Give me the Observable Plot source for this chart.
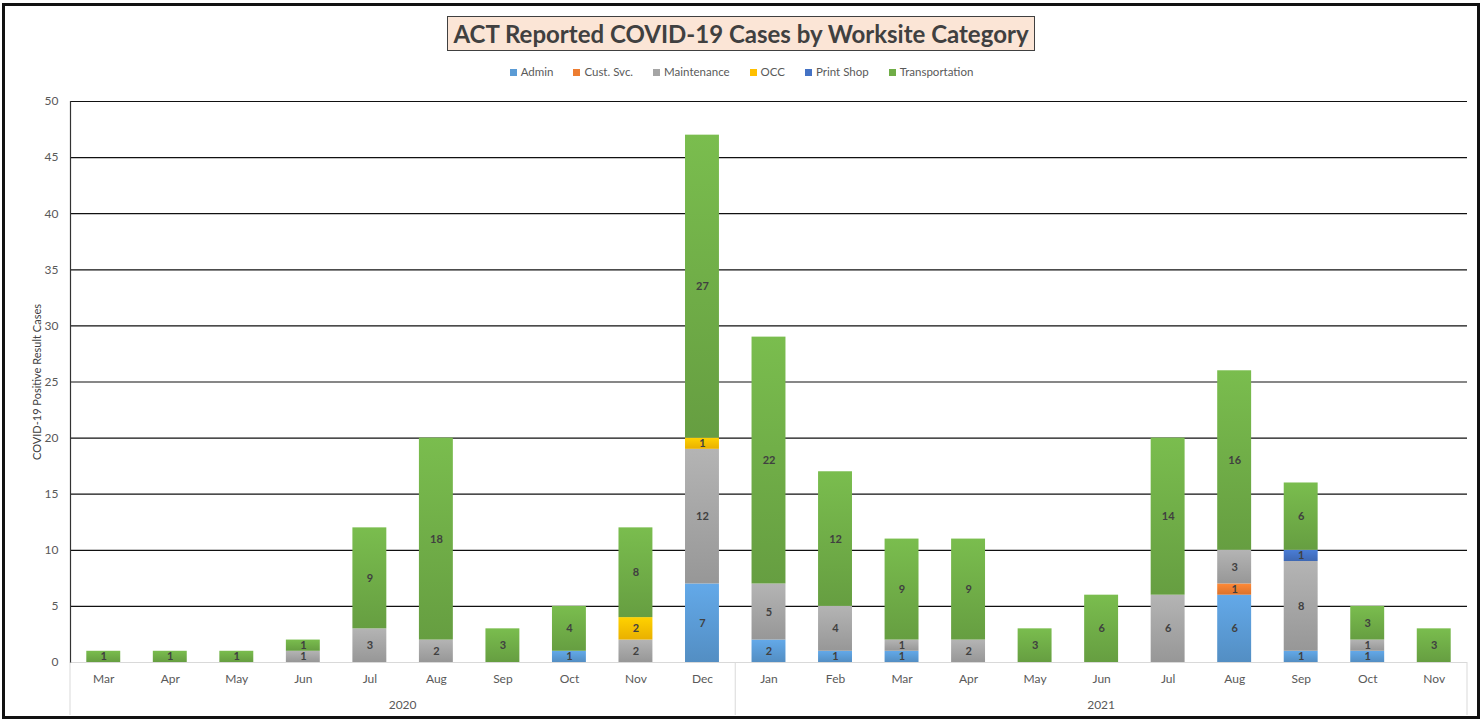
<!DOCTYPE html>
<html>
<head>
<meta charset="utf-8">
<script src="https://cdn.jsdelivr.net/npm/d3@7"></script>
<script src="https://cdn.jsdelivr.net/npm/@observablehq/plot@0.6"></script>
<style>
  html, body { margin: 0; padding: 0; background: #fff; }
  body { width: 1483px; height: 721px; position: relative; overflow: hidden; font-family: Lato, "Open Sans", sans-serif; }
  #border { position: absolute; left: 2px; top: 3px; width: 1472px; height: 710px; border: 3px solid #111; }
  #title { position: absolute; left: 447px; top: 16px; width: 586px; height: 33px; background: #fbe5d6; border: 1.5px solid #404040;
           font-weight: 700; font-size: 24px; color: #404040; text-align: center; line-height: 33px; white-space: nowrap; }
  #legend { position: absolute; left: 0; top: 65px; width: 1483px; text-align: center; font-size: 11.5px; color: #595959; }
  #legend span.item { margin: 0 10px; white-space: nowrap; }
  #legend span.sw { display: inline-block; width: 7px; height: 7px; margin-right: 4px; vertical-align: 0px; }
  #chart { position: absolute; left: 0; top: 90px; }
</style>
</head>
<body>
<div id="border"></div>
<div id="title">ACT Reported COVID-19 Cases by Worksite Category</div>
<div id="legend"></div>
<div id="chart"></div>
<script>
const months2020 = ["Mar","Apr","May","Jun","Jul","Aug","Sep","Oct","Nov","Dec"];
const months2021 = ["Jan","Feb","Mar","Apr","May","Jun","Jul","Aug","Sep","Oct","Nov"];
const years = ["2020", "2021"];
const categories = ["Admin","Cust. Svc.","Maintenance","OCC","Print Shop","Transportation"];
const colors = ["#5b9bd5","#ed7d31","#a5a5a5","#ffc000","#4472c4","#70ad47"];
const yTicks = [0,5,10,15,20,25,30,35,40,45,50];
//                   2020: Mar Apr May Jun Jul Aug Sep Oct Nov Dec | 2021: Jan Feb Mar Apr May Jun Jul Aug Sep Oct Nov
const admin          = [0,  0,  0,  0,  0,  0,  0,  1,  0,  7,   2,  1,  1,  0,  0,  0,  0,  6,  1,  1,  0];
const custSvc        = [0,  0,  0,  0,  0,  0,  0,  0,  0,  0,   0,  0,  0,  0,  0,  0,  0,  1,  0,  0,  0];
const maintenance    = [0,  0,  0,  1,  3,  2,  0,  0,  2, 12,   5,  4,  1,  2,  0,  0,  6,  3,  8,  1,  0];
const occ            = [0,  0,  0,  0,  0,  0,  0,  0,  2,  1,   0,  0,  0,  0,  0,  0,  0,  0,  0,  0,  0];
const printShop      = [0,  0,  0,  0,  0,  0,  0,  0,  0,  0,   0,  0,  0,  0,  0,  0,  0,  0,  1,  0,  0];
const transportation = [1,  1,  1,  1,  9, 18,  3,  4,  8, 27,  22, 12,  9,  9,  3,  6, 14, 16,  6,  3,  3];

const series = [admin, custSvc, maintenance, occ, printShop, transportation];
const keys = months2020.map(m => "2020 " + m).concat(months2021.map(m => "2021 " + m));
const data = [];
categories.forEach((c, ci) => keys.forEach((k, i) => data.push({key: k, cat: c, ci, value: series[ci][i]})));
const labelData = data.filter(d => d.value > 0);

// legend
const legend = document.getElementById("legend");
categories.forEach((c, i) => {
  const s = document.createElement("span");
  s.className = "item";
  s.innerHTML = `<span class="sw" style="background:${colors[i]}"></span>${c}`;
  legend.appendChild(s);
});

const W = 1483, H = 631, mL = 70, mR = 16, mT = 11, mB = 59;

const plot = Plot.plot({
  width: W, height: H,
  marginLeft: mL, marginRight: mR, marginTop: mT, marginBottom: mB,
  style: {fontFamily: "Lato, 'Open Sans', sans-serif", background: "transparent"},
  x: {domain: keys, paddingInner: 0.49, paddingOuter: 0.245, round: false, label: null},
  y: {domain: [0, 50], label: null},
  color: {domain: categories, range: categories.map((c, i) => `url(#grad${i})`)},
  marks: [
    Plot.ruleY(yTicks.filter(t => t > 0), {stroke: "#111", strokeWidth: 1.2}),
    Plot.ruleY([0], {stroke: "#d9d9d9", strokeWidth: 1}),
    Plot.barY(data, {x: "key", y: "value", fill: "cat", order: categories}),
    Plot.text(labelData, Plot.stackY({x: "key", y: "value", z: "cat", order: categories, text: d => String(d.value),
      fill: "#404040", fontWeight: "bold", fontSize: 11})),
    Plot.axisY({ticks: yTicks, tickSize: 0, tickPadding: 12, fontSize: 12, color: "#595959", label: null}),
    Plot.axisY({ticks: [], label: "COVID-19 Positive Result Cases", labelAnchor: "center", labelArrow: "none", labelOffset: 37, fontSize: 11, color: "#404040"}),
    Plot.axisX({tickSize: 0, tickPadding: 12, fontSize: 12, color: "#595959", tickFormat: d => d.split(" ")[1], label: null}),
    Plot.frame({anchor: "left", stroke: "#333", strokeWidth: 1.2})
  ]
});

// gradients for Excel-like shading
const svg = d3.select(plot);
const defs = svg.insert("defs", ":first-child");
colors.forEach((c, i) => {
  const g = defs.append("linearGradient").attr("id", `grad${i}`).attr("x1", 0).attr("y1", 0).attr("x2", 0).attr("y2", 1);
  g.append("stop").attr("offset", "0%").attr("stop-color", d3.color(c).brighter(0.25).formatHex());
  g.append("stop").attr("offset", "100%").attr("stop-color", d3.color(c).darker(0.25).formatHex());
});

document.getElementById("chart").appendChild(plot);

// year group labels and separators, positioned with Plot's x scale
const xs = plot.scale("x");
const gap = (xs.step - xs.bandwidth) / 2;
const yBase = H - mB;
const center = k => xs.apply(k) + xs.bandwidth / 2;
const yearX = [center("2020 Jul") + xs.step / 2, center("2021 Jun")];
years.forEach((y, i) => {
  svg.append("text").attr("x", yearX[i]).attr("y", yBase + 47).attr("text-anchor", "middle")
    .attr("font-size", 12).attr("fill", "#595959").attr("font-family", "Lato, 'Open Sans', sans-serif").text(y);
});
[xs.apply(keys[0]) - gap, xs.apply("2021 Jan") - gap, xs.apply(keys[keys.length - 1]) + xs.bandwidth + gap].forEach(x => {
  svg.append("line").attr("x1", x).attr("x2", x).attr("y1", yBase).attr("y2", yBase + 53)
    .attr("stroke", "#d9d9d9").attr("stroke-width", 1);
});
</script>
</body>
</html>
